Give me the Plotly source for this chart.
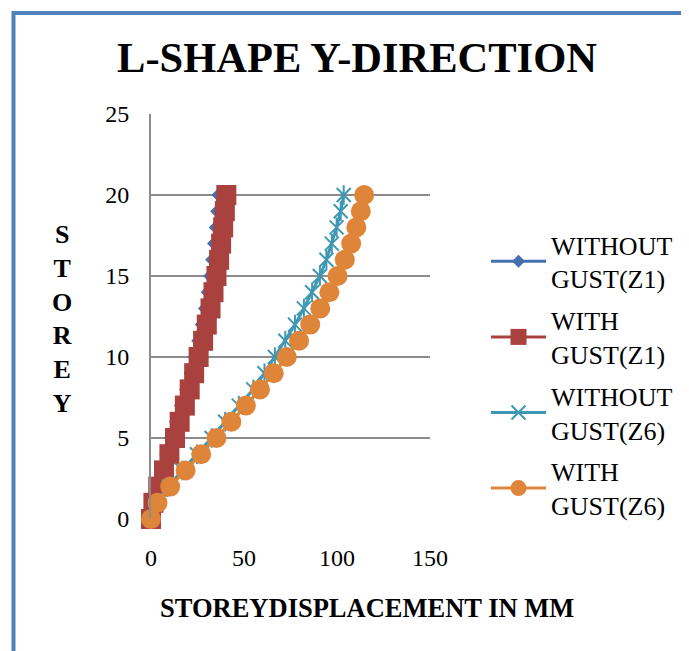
import plotly.graph_objects as go

storey = list(range(0, 21))
without_gust_z1 = [0, 1.0, 3.2, 5.5, 7.9, 10.4, 13.1, 15.8, 18.6, 21.0, 23.1, 25.1, 27.0, 28.7, 30.2, 31.5, 32.6, 33.6, 34.5, 35.3, 36.0]
with_gust_z1 = [0, 1.3, 3.9, 7.0, 9.9, 12.9, 15.4, 18.2, 20.8, 23.2, 25.6, 28.0, 30.0, 32.0, 33.6, 35.2, 36.6, 37.7, 38.8, 39.7, 40.5]
without_gust_z6 = [0, 3.2, 9.5, 16.8, 24.7, 32.6, 39.9, 47.2, 55.0, 61.0, 66.6, 72.2, 77.4, 82.2, 86.6, 90.8, 94.3, 97.2, 99.8, 102.0, 103.6]
with_gust_z6 = [0, 3.5, 10.3, 18.6, 27.0, 35.2, 43.2, 51.0, 58.6, 66.0, 73.0, 79.6, 85.6, 91.0, 95.9, 100.3, 104.2, 107.6, 110.4, 112.8, 114.6]

names = ["WITHOUT<br>GUST(Z1)", "WITH<br>GUST(Z1)", "WITHOUT<br>GUST(Z6)", "WITH<br>GUST(Z6)"]
x_ticks = [0, 50, 100, 150]
y_ticks = [0, 5, 10, 15, 20, 25]

BLUE = "#4470B0"
RED = "#A9413E"
TEAL = "#3F98B3"
ORANGE = "#DE8539"
FONT = "Liberation Serif, Times New Roman, serif"

fig = go.Figure()
fig.add_trace(go.Scatter(x=without_gust_z1, y=storey, name=names[0], mode="lines+markers",
                         line=dict(color=BLUE, width=3),
                         marker=dict(symbol="diamond", size=10, color=BLUE, line=dict(width=0)),
                         cliponaxis=False))
fig.add_trace(go.Scatter(x=with_gust_z1, y=storey, name=names[1], mode="lines+markers",
                         line=dict(color=RED, width=3),
                         marker=dict(symbol="square", size=20, color=RED, line=dict(width=0)),
                         cliponaxis=False))
fig.add_trace(go.Scatter(x=without_gust_z6, y=storey, name=names[2], mode="lines+markers",
                         line=dict(color=TEAL, width=3), legendgroup="z6a",
                         marker=dict(symbol="x-thin-open", size=14, color=TEAL, line=dict(width=2, color=TEAL)),
                         cliponaxis=False))
fig.add_trace(go.Scatter(x=without_gust_z6, y=storey, name=names[2], mode="markers",
                         showlegend=False, legendgroup="z6a",
                         marker=dict(symbol="line-ns-open", size=14, color=TEAL, line=dict(width=2, color=TEAL)),
                         cliponaxis=False))
fig.add_trace(go.Scatter(x=with_gust_z6, y=storey, name=names[3], mode="lines+markers",
                         line=dict(color=ORANGE, width=3),
                         marker=dict(symbol="circle", size=20, color=ORANGE, line=dict(width=0)),
                         cliponaxis=False))

OFF = 8  # default page body margin
W, H = 689 - OFF, 651 - OFF
L, R, T, B = 151 - OFF, 431 - OFF, 114 - OFF, 519 - OFF

def px(xp):
    return (xp - OFF - L) / (R - L)

def py(yp):
    return (B - (yp - OFF)) / (B - T)

fig.update_layout(
    width=W, height=H,
    margin=dict(l=L, r=W - R, t=T, b=H - B, pad=0),
    paper_bgcolor="white", plot_bgcolor="white",
    font=dict(family=FONT, color="black", size=24),
    title=dict(text="<b>L-SHAPE Y-DIRECTION</b>", x=(357 - OFF) / W, xanchor="center",
               y=1 - (57 - OFF) / H, yanchor="middle", font=dict(size=42.5, family=FONT, color="black")),
    showlegend=True,
    legend=dict(x=px(486), xanchor="left", y=py(221), yanchor="top",
                font=dict(size=26, family=FONT, color="black"),
                bgcolor="rgba(0,0,0,0)", tracegroupgap=5, itemwidth=55),
    xaxis=dict(range=[0, 150], tickvals=x_ticks, ticktext=[str(v) for v in x_ticks],
               showgrid=False, zeroline=False, showline=False, ticks="",
               ticklabelstandoff=22, tickfont=dict(size=24, family=FONT)),
    yaxis=dict(range=[0, 25], tickvals=y_ticks, ticktext=[str(v) for v in y_ticks],
               showgrid=True, gridcolor="#8C8C8C", gridwidth=1.5,
               zeroline=False, showline=True, linecolor="#8C8C8C", linewidth=2,
               ticks="", ticklabelstandoff=15, tickfont=dict(size=24, family=FONT)),
    annotations=[
        dict(text="<b>STOREYDISPLACEMENT IN MM</b>", xref="paper", yref="paper",
             x=px(368), y=py(608), xanchor="center", yanchor="middle", showarrow=False,
             font=dict(size=26.5, family=FONT, color="black")),
        dict(text="<b>S<br>T<br>O<br>R<br>E<br>Y</b>", xref="paper", yref="paper",
             x=px(62), y=py(319), xanchor="center", yanchor="middle", showarrow=False,
             font=dict(size=26, family=FONT, color="black")),
    ],
    shapes=[
        dict(type="line", xref="paper", yref="paper", x0=px(13), x1=px(689), y0=py(13), y1=py(13),
             line=dict(color="#4F81BD", width=4)),
        dict(type="line", xref="paper", yref="paper", x0=px(13), x1=px(13), y0=py(11), y1=py(651),
             line=dict(color="#4F81BD", width=4)),
    ],
)

fig.write_html("out.html")
